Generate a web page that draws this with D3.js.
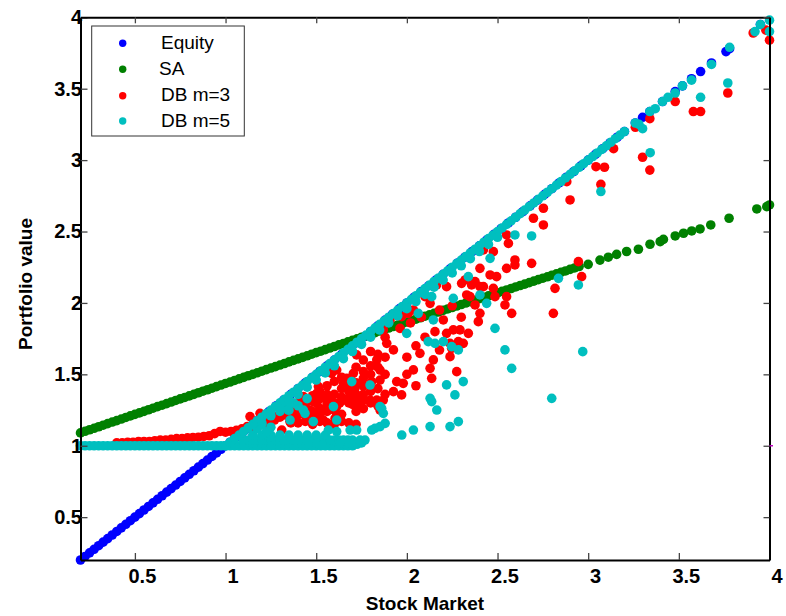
<!DOCTYPE html>
<html>
<head>
<meta charset="utf-8">
<script src="https://cdn.jsdelivr.net/npm/d3@7"></script>
<style>
  body { margin: 0; background: #fff; }
  svg { display: block; }
</style>
</head>
<body>
<svg id="chart" width="786" height="616"></svg>
<script>
// Portfolio value against the stock market outcome, one point per scenario.
const seriesNames = ["Equity", "SA", "DB m=3", "DB m=5"];
const seriesColors = ["#0000ff", "#008000", "#ff0000", "#00bfbf"];
const tickValues = [0.5, 1, 1.5, 2, 2.5, 3, 3.5, 4];
const tickLabels = ["0.5", "1", "1.5", "2", "2.5", "3", "3.5", "4"];

// Equity: [stock market, portfolio value]
const equity = [
  [0.200,0.200],[0.225,0.225],[0.250,0.250],[0.275,0.275],[0.300,0.300],[0.325,0.325],[0.350,0.350],[0.375,0.375],
  [0.400,0.400],[0.425,0.425],[0.450,0.450],[0.475,0.475],[0.500,0.500],[0.525,0.525],[0.550,0.550],[0.575,0.575],
  [0.600,0.600],[0.625,0.625],[0.650,0.650],[0.675,0.675],[0.700,0.700],[0.725,0.725],[0.750,0.750],[0.775,0.775],
  [0.800,0.800],[0.825,0.825],[0.850,0.850],[0.875,0.875],[0.900,0.900],[0.925,0.925],[0.950,0.950],[0.975,0.975],
  [1.000,1.000],[1.025,1.025],[1.050,1.050],[1.075,1.075],[1.100,1.100],[1.125,1.125],[1.150,1.150],[1.175,1.175],
  [1.200,1.200],[1.24,1.24],[1.28,1.28],[1.32,1.32],[1.36,1.36],[1.40,1.40],[1.44,1.44],[1.48,1.48],[1.52,1.52],
  [1.56,1.56],[1.60,1.60],[1.64,1.64],[1.68,1.68],[1.72,1.72],[1.76,1.76],[1.80,1.80],[1.84,1.84],[1.88,1.88],
  [1.92,1.92],[1.96,1.96],[2.00,2.00],[2.04,2.04],[2.08,2.08],[2.12,2.12],[2.16,2.16],[2.20,2.20],[2.24,2.24],
  [2.28,2.28],[2.32,2.32],[2.36,2.36],[2.40,2.40],[2.44,2.44],[2.48,2.48],[2.52,2.52],[2.56,2.56],[2.60,2.60],
  [2.64,2.64],[2.68,2.68],[2.72,2.72],[2.76,2.76],[2.80,2.80],[2.84,2.84],[2.88,2.88],[2.92,2.92],[2.96,2.96],
  [3.00,3.00],[3.04,3.04],[3.08,3.08],[3.12,3.12],[3.16,3.16],[3.20,3.20],
  [3.26,3.26],[3.30,3.30],[3.34,3.34],[3.41,3.41],[3.48,3.48],[3.52,3.52],[3.57,3.57],[3.62,3.62],[3.68,3.68],
  [3.76,3.76],[3.78,3.78],[3.95,3.95]
];

// SA
const sa = [
  [0.200,1.090],[0.225,1.101],[0.250,1.112],[0.275,1.122],[0.300,1.133],[0.325,1.144],[0.350,1.155],[0.375,1.166],
  [0.400,1.176],[0.425,1.187],[0.450,1.198],[0.475,1.209],[0.500,1.220],[0.525,1.230],[0.550,1.241],[0.575,1.252],
  [0.600,1.263],[0.625,1.274],[0.650,1.284],[0.675,1.295],[0.700,1.306],[0.725,1.317],[0.750,1.328],[0.775,1.338],
  [0.800,1.349],[0.825,1.360],[0.850,1.371],[0.875,1.382],[0.900,1.392],[0.925,1.403],[0.950,1.414],[0.975,1.425],
  [1.000,1.436],[1.025,1.446],[1.050,1.457],[1.075,1.468],[1.100,1.479],[1.125,1.490],[1.150,1.500],[1.175,1.511],
  [1.200,1.522],[1.225,1.533],[1.250,1.544],[1.275,1.554],[1.300,1.565],[1.325,1.576],[1.350,1.587],[1.375,1.598],
  [1.400,1.608],[1.425,1.619],[1.450,1.630],[1.475,1.641],[1.500,1.652],[1.525,1.662],[1.550,1.673],[1.575,1.684],
  [1.600,1.695],[1.625,1.706],[1.650,1.716],[1.675,1.727],[1.700,1.738],[1.725,1.749],[1.750,1.760],[1.775,1.770],
  [1.800,1.781],[1.825,1.792],[1.850,1.803],[1.875,1.814],[1.900,1.824],[1.925,1.835],[1.950,1.846],[1.975,1.855],
  [2.000,1.866],[2.025,1.876],[2.050,1.886],[2.075,1.896],[2.100,1.907],[2.125,1.917],[2.150,1.927],[2.175,1.937],
  [2.200,1.948],[2.225,1.958],[2.250,1.968],[2.275,1.978],[2.300,1.989],[2.325,1.999],[2.350,2.009],[2.375,2.019],
  [2.400,2.030],[2.425,2.040],[2.450,2.050],[2.475,2.060],[2.500,2.071],[2.525,2.081],[2.550,2.091],[2.575,2.101],
  [2.600,2.112],[2.625,2.122],[2.650,2.132],[2.675,2.142],[2.700,2.153],[2.725,2.163],[2.750,2.173],[2.775,2.183],
  [2.800,2.194],[2.825,2.204],[2.850,2.214],[2.875,2.224],[2.900,2.235],[2.925,2.245],[2.950,2.255],
  [3.000,2.270],[3.065,2.300],[3.111,2.320],[3.157,2.340],[3.212,2.360],[3.277,2.376],[3.341,2.411],[3.397,2.429],
  [3.415,2.445],[3.480,2.469],[3.526,2.488],[3.571,2.504],[3.617,2.518],[3.676,2.546],[3.777,2.593],[3.930,2.658],
  [3.985,2.674],[4.000,2.686]
];

// DB m=3
const dbM3 = [
  [0.40,1.020],[0.43,1.020],[0.46,1.025],[0.49,1.025],[0.52,1.030],[0.55,1.030],[0.58,1.030],[0.61,1.035],
  [0.64,1.040],[0.67,1.040],[0.70,1.045],[0.73,1.050],[0.76,1.050],[0.79,1.055],[0.82,1.058],[0.85,1.060],
  [0.88,1.065],[0.91,1.070],[0.94,1.085],[0.97,1.100],[1.00,1.095],[1.03,1.100],[1.06,1.108],[1.09,1.118],
  [1.12,1.135],[1.15,1.130],[1.18,1.140],[1.21,1.155],[1.24,1.170],[1.27,1.180],[1.30,1.200],[1.33,1.215],
  [1.135,1.204],[1.190,1.227],[1.282,1.204],[1.310,1.110],
  [1.392,1.297],[1.429,1.344],[1.447,1.320],[1.466,1.250],[1.503,1.367],[1.503,1.227],[1.539,1.344],[1.558,1.274],
  [1.576,1.320],[1.613,1.274],[1.613,1.215],[1.604,1.192],[1.650,1.320],[1.686,1.344],[1.723,1.320],[1.760,1.320],
  [1.797,1.320],[1.834,1.320],[1.503,1.297],[1.447,1.215],[1.466,1.180],[1.392,1.204],[1.539,1.180],[1.576,1.145],
  [1.355,1.169],[1.420,1.260],[1.630,1.300],[1.700,1.290],[1.740,1.290],
  [1.36,1.16],[1.36,1.20],[1.36,1.24],[1.40,1.16],[1.40,1.22],[1.40,1.26],[1.40,1.30],[1.44,1.17],[1.44,1.21],
  [1.44,1.29],[1.44,1.33],[1.48,1.15],[1.48,1.20],[1.48,1.24],[1.48,1.31],[1.48,1.35],[1.52,1.17],[1.52,1.21],
  [1.52,1.26],[1.52,1.33],[1.52,1.38],[1.56,1.16],[1.56,1.24],[1.56,1.30],[1.56,1.36],[1.56,1.42],[1.60,1.15],
  [1.60,1.25],[1.60,1.30],[1.60,1.36],[1.60,1.45],[1.64,1.17],[1.64,1.22],[1.64,1.34],[1.64,1.40],[1.64,1.48],
  [1.68,1.16],[1.68,1.30],[1.68,1.38],[1.68,1.42],[1.72,1.15],[1.72,1.24],[1.72,1.36],[1.72,1.44],[1.72,1.55],
  [1.76,1.26],[1.76,1.36],[1.76,1.42],[1.76,1.52],[1.76,1.60],[1.80,1.30],[1.80,1.38],[1.80,1.50],[1.80,1.56],
  [1.80,1.66],[1.84,1.28],[1.84,1.40],[1.84,1.55],[1.84,1.64],[1.88,1.36],[1.88,1.50],[1.88,1.62],[1.88,1.76],
  [1.512,1.414],[1.585,1.507],[1.613,1.530],[1.650,1.437],[1.668,1.472],[1.705,1.507],[1.714,1.402],[1.760,1.472],
  [1.806,1.449],[1.852,1.460],[1.834,1.601],[1.852,1.530],[1.723,1.636],[1.870,1.320],[1.852,1.250],[1.889,1.717],
  [1.926,1.671],[1.926,1.379],[1.944,1.449],[1.870,1.811],[1.907,1.881],[1.944,1.927],
  [2.00,1.62],[2.05,1.70],[2.10,1.76],[2.02,1.86],[2.08,1.90],[2.18,1.95],[2.25,1.98],[2.30,1.90],[2.18,1.67],
  [2.05,1.42],[2.00,1.50],
  [1.971,1.356],[1.980,1.437],[2.036,1.531],[2.072,1.647],[2.137,1.472],[2.128,1.542],[2.146,1.601],[2.238,1.624],
  [2.247,1.682],[2.311,1.717],[2.284,1.729],[2.238,1.717],[2.275,1.519],[2.339,1.787],[2.293,1.811],[2.256,1.811],
  [2.219,1.787],[2.155,1.799],[2.201,1.881],[1.962,1.822],[1.971,1.904],[2.008,1.927],[2.036,1.951],[2.128,1.997],
  [2.100,2.044],[2.164,2.126],[2.219,2.114],[2.348,2.044],[2.403,2.114],[2.330,2.056],[2.357,2.126],[2.302,2.137],
  [2.321,2.161],[2.376,2.149],[2.422,2.114],[2.477,2.102],[2.495,2.184],[2.459,2.196],[2.403,2.242],[2.403,1.927],
  [2.394,1.869],[2.376,1.986],[2.486,2.044],[2.550,2.044],[2.541,1.986],[2.578,1.927],[2.808,1.927],[2.817,2.102],
  [2.946,2.289],[2.964,2.184],[2.550,2.242],[2.596,2.301],[2.596,2.266],[2.688,2.277],[2.422,2.371],[2.477,2.359],
  [2.560,2.417],[2.550,2.476],[2.698,2.593],[2.753,2.546],[2.753,2.663],[2.882,2.849],[2.900,2.721],[3.043,2.954],
  [3.07,2.83],[3.09,2.95],[3.14,3.08],[3.26,3.23],[3.30,3.02],[3.34,2.93],[3.34,3.29],[3.48,3.41],[3.58,3.34],
  [3.62,3.34],[3.77,3.47],[3.91,3.89],[3.98,3.91],[4.00,3.84]
];

// DB m=5
const dbM5 = [
  [0.200,1.000],[0.225,1.000],[0.250,1.000],[0.275,1.000],[0.300,1.000],[0.325,1.000],[0.350,1.000],[0.375,1.000],
  [0.400,1.000],[0.425,1.000],[0.450,1.000],[0.475,1.000],[0.500,1.000],[0.525,1.000],[0.550,1.000],[0.575,1.000],
  [0.600,1.000],[0.625,1.000],[0.650,1.000],[0.675,1.000],[0.700,1.000],[0.725,1.000],[0.750,1.000],[0.775,1.000],
  [0.800,1.000],[0.825,1.000],[0.850,1.000],[0.875,1.000],[0.900,1.000],[0.925,1.000],[0.950,1.000],[0.975,1.000],
  [1.000,1.000],[1.025,1.000],[1.050,1.000],[1.075,1.000],[1.100,1.000],[1.125,1.000],[1.150,1.000],[1.175,1.000],
  [1.200,1.000],[1.225,1.000],[1.250,1.000],[1.275,1.000],[1.300,1.000],[1.325,1.000],[1.350,1.000],[1.375,1.000],
  [1.400,1.000],[1.425,1.000],[1.450,1.000],[1.475,1.000],[1.500,1.000],[1.525,1.000],[1.550,1.000],[1.575,1.000],
  [1.600,1.000],[1.625,1.000],[1.650,1.000],[1.675,1.000],[1.700,1.000],[1.725,1.010],[1.750,1.020],
  [1.100,1.040],[1.125,1.040],[1.150,1.040],[1.175,1.040],[1.200,1.040],[1.225,1.040],[1.250,1.040],[1.275,1.040],
  [1.300,1.040],[1.325,1.040],[1.350,1.040],[1.375,1.040],[1.400,1.040],[1.425,1.040],[1.450,1.040],[1.475,1.040],
  [1.500,1.040],[1.525,1.040],[1.550,1.040],[1.575,1.040],[1.600,1.040],[1.625,1.040],[1.650,1.040],[1.675,1.040],
  [1.700,1.040],
  [1.150,1.075],[1.200,1.075],[1.250,1.075],[1.300,1.075],[1.350,1.075],[1.400,1.075],[1.450,1.075],[1.500,1.075],
  [1.550,1.075],
  [1.175,1.120],[1.200,1.150],[1.225,1.100],[1.250,1.130],[1.300,1.240],[1.325,1.270],[1.350,1.250],[1.375,1.300],
  [1.400,1.280],[1.450,1.330],
  [1.000,1.000],[1.025,1.025],[1.050,1.050],[1.075,1.075],[1.100,1.100],[1.125,1.125],[1.150,1.150],[1.175,1.175],
  [1.200,1.200],[1.225,1.225],[1.250,1.250],[1.275,1.275],[1.300,1.300],[1.325,1.325],[1.350,1.350],[1.375,1.375],
  [1.400,1.400],[1.425,1.425],[1.450,1.450],[1.475,1.475],[1.500,1.500],[1.525,1.525],[1.550,1.550],[1.575,1.575],
  [1.600,1.600],[1.625,1.625],[1.650,1.650],[1.675,1.675],[1.700,1.700],[1.725,1.725],[1.750,1.750],[1.775,1.775],
  [1.800,1.800],[1.825,1.825],[1.850,1.850],[1.875,1.875],[1.900,1.900],[1.925,1.925],[1.950,1.950],[1.975,1.975],
  [2.000,2.000],[2.025,2.025],[2.050,2.050],[2.075,2.075],[2.100,2.100],[2.125,2.125],[2.150,2.150],[2.175,2.175],
  [2.200,2.200],[2.225,2.225],[2.250,2.250],[2.275,2.275],[2.300,2.300],[2.325,2.325],[2.350,2.350],[2.375,2.375],
  [2.400,2.400],[2.425,2.425],[2.450,2.450],[2.475,2.475],[2.500,2.500],[2.525,2.525],[2.550,2.550],[2.575,2.575],
  [2.600,2.600],[2.625,2.625],[2.650,2.650],[2.675,2.675],[2.700,2.700],[2.725,2.725],[2.750,2.750],[2.775,2.775],
  [2.800,2.800],[2.825,2.825],[2.850,2.850],[2.875,2.875],[2.900,2.900],[2.925,2.925],[2.950,2.950],[2.975,2.975],
  [3.000,3.000],[3.025,3.025],[3.050,3.050],[3.075,3.075],[3.100,3.100],[3.125,3.125],[3.150,3.150],[3.175,3.175],
  [3.200,3.200],
  [1.20,1.16],[1.25,1.21],[1.30,1.26],[1.35,1.31],[1.40,1.36],[1.45,1.41],[1.50,1.46],[1.55,1.51],[1.60,1.56],
  [1.65,1.61],[1.70,1.66],[1.75,1.71],[1.80,1.76],[1.85,1.81],[1.90,1.86],[1.95,1.91],[2.00,1.96],[2.05,2.01],
  [2.10,2.06],[2.15,2.11],[2.20,2.16],[2.25,2.21],[2.30,2.26],[2.35,2.31],[2.40,2.36],[2.45,2.41],[2.50,2.46],
  [1.595,1.274],[1.438,1.227],[1.484,1.169],[1.356,1.180],[1.613,1.180],[1.567,1.110],[1.613,1.099],[1.687,1.110],
  [1.723,1.110],[1.742,1.040],[1.769,1.040],[1.806,1.110],[1.824,1.122],[1.852,1.134],[1.880,1.157],[1.861,1.262],
  [1.870,1.227],[1.972,1.075],[2.036,1.110],[2.128,1.134],[2.137,1.309],[2.165,1.250],[2.238,1.134],[2.284,1.169],
  [1.797,1.425],[1.696,1.449],[1.668,1.029],[1.631,1.017],[1.503,1.017],[1.530,1.005],[1.346,1.250],[1.429,1.250],
  [1.852,1.274],
  [2.596,2.476],[2.688,2.469],[2.459,2.312],[2.339,2.184],[2.137,2.044],[2.256,2.032],[2.403,2.056],[2.440,1.997],
  [2.146,1.881],[1.999,1.787],[2.486,1.822],[2.118,1.729],[2.155,1.717],[2.201,1.729],[2.247,1.694],[2.284,1.671],
  [2.541,1.671],[2.578,1.542],[2.311,1.449],[2.219,1.426],[2.265,1.356],[2.128,1.332],[2.799,1.332],[2.836,2.172],
  [2.946,2.126],[2.970,1.659],[2.063,1.927],
  [3.07,2.78],[3.342,3.052],[3.62,3.44],[3.77,3.54],
  [3.26,3.26],[3.28,3.25],[3.30,3.22],[3.34,3.34],[3.37,3.36],[3.41,3.41],[3.44,3.44],[3.48,3.47],[3.52,3.52],
  [3.57,3.56],[3.68,3.67],[3.78,3.79],[3.92,3.90],[3.95,3.95],[4.00,3.98],[4.00,3.90]
];

const seriesData = [equity, sa, dbM3, dbM5];

const svg = d3.select("#chart");
const plotLeft = 80.5, plotRight = 769.5, plotTop = 17.3, plotBottom = 560;

const x = d3.scaleLinear().domain([0.2, 4]).range([plotLeft, plotRight]);
const y = d3.scaleLinear().domain([0.2, 4]).range([plotBottom, plotTop]);

svg.append("rect").attr("width", 786).attr("height", 616).attr("fill", "#fff");

const fmt = d => tickLabels[tickValues.indexOf(d)];
const fontStack = "'Liberation Sans', Arial, Helvetica, sans-serif";

function styleAxis(g) {
  g.select(".domain").attr("stroke", "#000").attr("stroke-width", 2);
  g.selectAll(".tick line").attr("stroke", "#444").attr("stroke-width", 1.3);
  g.selectAll(".tick text")
    .attr("fill", "#000")
    .style("font-family", fontStack)
    .style("font-size", "20px")
    .style("font-weight", "bold");
  g.attr("font-family", null).attr("font-size", null);
}

// scatter points, drawn in series order so later series sit on top
seriesData.forEach((data, i) => {
  svg.append("g")
    .attr("class", "series")
    .selectAll("circle")
    .data(data)
    .join("circle")
    .attr("cx", d => x(d[0]))
    .attr("cy", d => y(d[1]))
    .attr("r", 4.8)
    .attr("fill", seriesColors[i]);
});

// axes on all four sides, ticks pointing inward
svg.append("g")
  .attr("transform", `translate(0,${plotBottom})`)
  .call(d3.axisBottom(x).tickValues(tickValues).tickFormat(fmt).tickSizeInner(-7).tickSizeOuter(0).tickPadding(9))
  .call(styleAxis)
  .call(g => g.selectAll(".tick text").attr("dx", 7));

svg.append("g")
  .attr("transform", `translate(${plotLeft},0)`)
  .call(d3.axisLeft(y).tickValues(tickValues).tickFormat(fmt).tickSizeInner(-7).tickSizeOuter(0).tickPadding(-1.5))
  .call(styleAxis);

svg.append("g")
  .attr("transform", `translate(0,${plotTop})`)
  .call(d3.axisTop(x).tickValues(tickValues).tickFormat("").tickSizeInner(-6).tickSizeOuter(0))
  .call(styleAxis);

svg.append("g")
  .attr("transform", `translate(${plotRight},0)`)
  .call(d3.axisRight(y).tickValues(tickValues).tickFormat("").tickSizeInner(-6).tickSizeOuter(0))
  .call(styleAxis);

// small marker on the right edge at the guaranteed level 1
svg.append("line")
  .attr("x1", plotRight).attr("x2", plotRight + 3.5)
  .attr("y1", y(1)).attr("y2", y(1))
  .attr("stroke", "#c000c0").attr("stroke-width", 1.5);

// axis titles
svg.append("text")
  .attr("x", (plotLeft + plotRight) / 2).attr("y", 610)
  .attr("text-anchor", "middle")
  .style("font-family", fontStack).style("font-size", "19px").style("font-weight", "bold")
  .text("Stock Market");

svg.append("text")
  .attr("transform", "translate(32,284) rotate(-90)")
  .attr("text-anchor", "middle")
  .style("font-family", fontStack).style("font-size", "19px").style("font-weight", "bold")
  .text("Portfolio value");

// legend
const legend = svg.append("g");
legend.append("rect")
  .attr("x", 91.7).attr("y", 26).attr("width", 152.6).attr("height", 110)
  .attr("fill", "#fff").attr("stroke", "#333").attr("stroke-width", 1);
const legendY = [43.3, 69.3, 95.7, 121];
seriesNames.forEach((name, i) => {
  legend.append("circle")
    .attr("cx", 122.7).attr("cy", legendY[i]).attr("r", 3.7)
    .attr("fill", seriesColors[i]);
  legend.append("text")
    .attr("x", i === 1 ? 159 : 161).attr("y", legendY[i] + 5.5)
    .style("font-family", fontStack).style("font-size", "19px")
    .text(name);
});
</script>
</body>
</html>
